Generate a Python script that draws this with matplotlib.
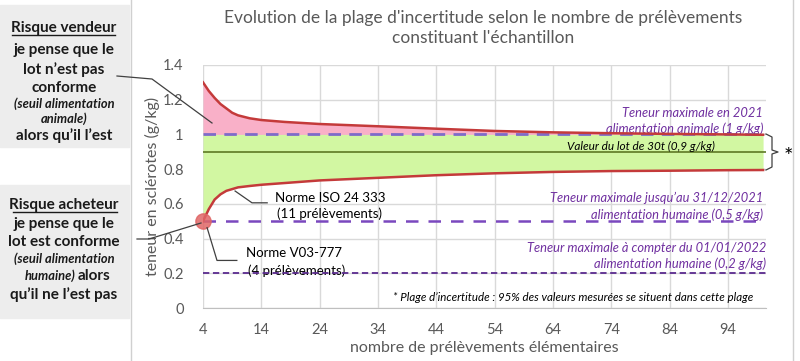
import matplotlib.pyplot as plt
from matplotlib.lines import Line2D
import numpy as np

plt.rcParams['font.family'] = ['Lato', 'DejaVu Sans']

# nombre de prélèvements et bornes de la plage d'incertitude
n = [4, 5, 6, 7, 8, 9, 10, 12, 14, 18, 24, 34, 44, 54, 64, 74, 84, 94, 100]
upper = [1.30, 1.25, 1.21, 1.175, 1.15, 1.125, 1.11, 1.093, 1.083, 1.072, 1.06, 1.047,
         1.033, 1.02, 1.012, 1.007, 1.003, 1.0, 0.998]
lower = [0.50, 0.57, 0.625, 0.655, 0.675, 0.685, 0.695, 0.703, 0.71, 0.72, 0.735, 0.75,
         0.765, 0.776, 0.784, 0.789, 0.791, 0.794, 0.795]
lot_value = 0.9
seuil_animal = 1.0
seuil_humain_2021 = 0.5
seuil_humain_2022 = 0.2
xticks = [4, 14, 24, 34, 44, 54, 64, 74, 84, 94]
yticks = [0, 0.2, 0.4, 0.6, 0.8, 1.0, 1.2, 1.4]
ytick_labels = ['0', '0.2', '0.4', '0.6', '0.8', '1', '1.2', '1.4']

W, H = 800, 361
def px(x, y):
    return x / W, 1 - y / H

fig = plt.figure(figsize=(8, 3.61), dpi=100)
ax = fig.add_axes([203 / W, 1 - 308 / H, (766 - 203) / W, (308 - 65) / H])

nn = np.array(n)
up = np.array(upper)
lo = np.array(lower)

# zones colorées
ax.fill_between(nn, seuil_animal, up, where=up > seuil_animal, interpolate=True,
                color='#F9B0C8', lw=0, zorder=1)
ax.fill_between(nn, lo, np.minimum(up, seuil_animal), color='#D2F7A2', lw=0, zorder=1)

# courbes
ax.plot(nn, up, color='#C43A3A', lw=1.8, zorder=4)
ax.plot(nn, lo, color='#C43A3A', lw=1.8, zorder=4)
ax.axhline(lot_value, color='#5E7A25', lw=1.2, zorder=3)
ax.axhline(seuil_animal, color='#7E6BC9', lw=2, dashes=(4.5, 3), zorder=3)
ax.axhline(seuil_humain_2021, color='#7A48BE', lw=1.8, dashes=(5, 4), zorder=3)
ax.axhline(seuil_humain_2022, color='#5A2A8E', lw=1.3, dashes=(3.5, 2), zorder=3)
ax.plot([n[0]], [lower[0]], 'o', ms=11, color='#E06666', alpha=0.85, zorder=5, clip_on=False)

ax.set_xlim(4, 100.5)
ax.set_ylim(0, 1.4)
ax.set_xticks(xticks)
ax.set_yticks(yticks)
ax.set_yticklabels(ytick_labels)
ax.grid(True, color='#D9D9D9', lw=1, zorder=0)
ax.set_axisbelow(True)
for s in ['top', 'right', 'left']:
    ax.spines[s].set_visible(False)
ax.spines['bottom'].set_color('#BFBFBF')
ax.tick_params(length=0, labelsize=10.5, labelcolor='#595959', pad=11)
ax.tick_params(axis='y', pad=14)
ax.set_xlabel('nombre de prélèvements élémentaires', color='#595959', fontsize=11.5, labelpad=3)
ax.set_ylabel('teneur en sclérotes (g/kg)', color='#595959', fontsize=11.5, labelpad=2)

fig.text(0.604, 1 - 28 / H, "Evolution de la plage d'incertitude selon le nombre de prélèvements\nconstituant l'échantillon",
         ha='center', va='center', fontsize=12.5, color='#595959', linespacing=1.35)

# annotations dans le graphique
purple = '#7030A0'
ax.text(100, 1.126, 'Teneur maximale en 2021', ha='right', va='center', style='italic', color=purple, fontsize=9.3)
ax.text(100, 1.034, 'alimentation animale (1 g/kg)', ha='right', va='center', style='italic', color=purple, fontsize=9.3)
ax.text(79, 0.93, 'Valeur du lot de 30t (0,9 g/kg)', ha='center', va='center', style='italic', color='black', fontsize=8.5)
ax.text(100, 0.634, 'Teneur maximale jusqu\u2019au 31/12/2021', ha='right', va='center', style='italic', color=purple, fontsize=9.3)
ax.text(100, 0.537, 'alimentation humaine (0,5 g/kg)', ha='right', va='center', style='italic', color=purple, fontsize=9.3)
ax.text(100.5, 0.343, 'Teneur maximale à compter du 01/01/2022', ha='right', va='center', style='italic', color=purple, fontsize=9.3)
ax.text(100.5, 0.257, 'alimentation humaine (0,2 g/kg)', ha='right', va='center', style='italic', color=purple, fontsize=9.3)
ax.text(98.3, 0.063, '* Plage d\u2019incertitude : 95% des valeurs mesurées se situent dans cette plage',
        ha='right', va='center', style='italic', color='black', fontsize=8.3)

ax.text(16.3, 0.634, 'Norme ISO 24 333', ha='left', va='center', fontsize=9.5, zorder=6)
ax.text(16.6, 0.543, '(11 prélèvements)', ha='left', va='center', fontsize=9.5, zorder=6)
ax.plot([9.5, 12.4, 15.0], [0.674, 0.606, 0.606], color='#404040', lw=0.9, zorder=6)
ax.text(11.4, 0.314, 'Norme V03-777', ha='left', va='center', fontsize=9.5, zorder=2)
ax.text(11.7, 0.217, '(4 prélèvements)', ha='left', va='center', fontsize=9.5, zorder=2)
ax.plot([4.7, 6.4, 9.8], [0.463, 0.274, 0.274], color='#404040', lw=0.9, zorder=6)

# accolade et astérisque à droite
bx = [766, 772, 772, 778, 772, 772, 766]
by = [134, 137, 150, 152, 154, 167, 170]
fig.add_artist(Line2D([px(x, 0)[0] for x in bx], [px(0, y)[1] for y in by], color='#404040', lw=0.9))
fig.text(*px(788, 157), '*', ha='center', va='center', fontsize=16)

# bordure du graphique
fig.add_artist(Line2D([131 / W, 131 / W], [0, 1], color='#D0D0D0', lw=1))
fig.add_artist(Line2D([793 / W, 793 / W], [0, 1], color='#D0D0D0', lw=1))

# encadrés à gauche
fig.patches.append(plt.Rectangle(px(0, 147), 129 / W, 142 / H, transform=fig.transFigure,
                                 color='#EDEDED', zorder=0))
fig.patches.append(plt.Rectangle(px(0, 318), 129 / W, 133 / H, transform=fig.transFigure,
                                 color='#EDEDED', zorder=0))

bold = dict(ha='center', va='center', fontsize=11, fontweight='bold', color='#1A1A1A')
ital = dict(ha='center', va='center', fontsize=9.3, fontweight='bold', style='italic', color='#1A1A1A')
cx = 64
fig.text(*px(cx, 28), 'Risque vendeur', **bold)
fig.add_artist(Line2D([12 / W, 115 / W], [1 - 35 / H] * 2, color='#1A1A1A', lw=1))
fig.text(*px(cx, 50), 'je pense que le', **bold)
fig.text(*px(cx, 70), 'lot n\u2019est pas', **bold)
fig.text(*px(cx, 88), 'conforme', **bold)
fig.text(*px(cx, 104), '(seuil alimentation', **ital)
fig.text(*px(cx, 119), 'animale)', **ital)
fig.text(*px(cx, 136), 'alors qu\u2019il l\u2019est', **bold)

fig.text(*px(cx, 205), 'Risque acheteur', **bold)
fig.add_artist(Line2D([13 / W, 117 / W], [1 - 212 / H] * 2, color='#1A1A1A', lw=1))
fig.text(*px(cx, 224), 'je pense que le', **bold)
fig.text(*px(cx, 242), 'lot est conforme', **bold)
fig.text(*px(cx, 259), '(seuil alimentation', **ital)
fig.text(*px(75, 276), 'humaine)', ha='right', va='center', fontsize=9.3, fontweight='bold',
         style='italic', color='#1A1A1A')
fig.text(*px(78, 276), 'alors', ha='left', va='center', fontsize=11, fontweight='bold', color='#1A1A1A')
fig.text(*px(cx, 295), 'qu\u2019il ne l\u2019est pas', **bold)

# traits de liaison
fig.add_artist(Line2D([px(x, 0)[0] for x in [117, 152, 212]], [px(0, y)[1] for y in [76, 79, 123]],
                      color='#404040', lw=0.9))
fig.add_artist(Line2D([px(x, 0)[0] for x in [137, 149, 201]], [px(0, y)[1] for y in [239, 239, 223]],
                      color='#404040', lw=0.9))

fig.savefig('out.png', dpi=100)
